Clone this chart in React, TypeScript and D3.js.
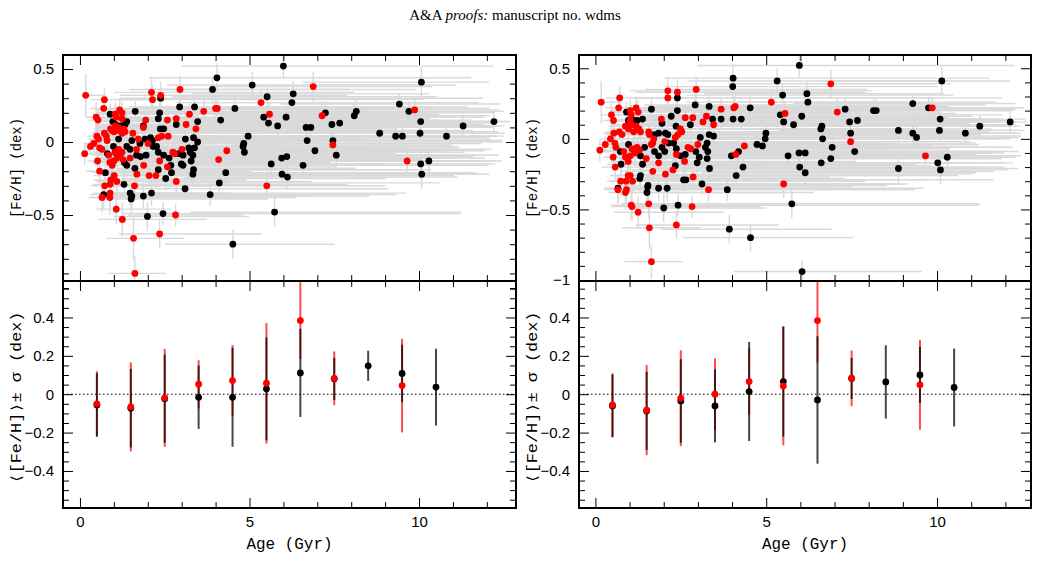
import React, { useEffect, useRef } from 'react';
import * as d3 from 'd3';

// [age (Gyr), [Fe/H], age minus, age plus, [Fe/H] error]
type Star = [number, number, number, number, number];

const leftRed: Star[] = [
  [0.17,0.32,0.1,0.6,0.15],[0.14,-0.08,0.1,0.9,0.08],[0.48,0.17,0.3,2.5,0.1],[0.53,0.15,0.3,4.2,0.08],
  [0.72,0.29,0.4,1.8,0.08],[0.70,0.23,0.4,6.5,0.07],[0.31,-0.03,0.2,1.2,0.06],[0.41,-0.01,0.3,3.5,0.07],
  [0.50,0.04,0.3,7.5,0.06],[0.55,0.02,0.3,2.0,0.07],[0.58,-0.04,0.4,9.0,0.06],[0.65,-0.05,0.4,5.0,0.08],
  [0.72,0.06,0.4,3.0,0.06],[0.78,0.04,0.5,10.5,0.07],[0.80,0.01,0.5,6.0,0.06],[0.52,-0.13,0.3,2.2,0.08],
  [0.58,-0.20,0.4,4.5,0.09],[0.73,-0.30,0.4,3.0,0.1],[0.65,-0.38,0.4,1.5,0.1],[0.89,-0.35,0.5,2.5,0.1],
  [0.88,-0.38,0.5,5.5,0.12],[1.07,-0.46,0.6,1.6,0.1],[1.25,-0.53,0.7,2.5,0.12],[1.58,-0.66,0.8,1.5,0.15],
  [1.62,-0.90,0.8,0.9,0.12],[0.89,-0.29,0.5,7.0,0.08],[0.91,-0.26,0.5,4.0,0.08],[1.01,-0.23,0.6,8.0,0.09],
  [1.09,-0.27,0.6,3.5,0.08],[0.85,-0.09,0.5,9.5,0.06],[0.88,-0.14,0.5,6.5,0.07],[0.95,-0.16,0.5,4.0,0.07],
  [1.00,-0.13,0.6,10.0,0.06],[1.04,-0.07,0.6,7.5,0.06],[1.09,-0.11,0.6,2.5,0.07],[1.14,-0.05,0.6,11.0,0.06],
  [1.19,-0.08,0.7,5.0,0.06],[1.24,-0.07,0.7,8.5,0.07],[1.27,-0.12,0.7,3.5,0.06],[0.90,0.09,0.5,5.5,0.06],
  [0.94,0.08,0.5,9.0,0.07],[1.00,0.07,0.6,3.0,0.06],[1.04,0.11,0.6,7.0,0.07],[1.09,0.08,0.6,10.5,0.06],
  [1.14,0.10,0.6,4.5,0.06],[1.19,0.08,0.7,8.0,0.07],[1.24,0.06,0.7,6.0,0.06],[1.29,0.09,0.7,2.5,0.06],
  [1.33,0.07,0.7,11.0,0.07],[1.04,0.19,0.6,5.0,0.08],[1.07,0.17,0.6,3.0,0.07],[1.17,0.22,0.6,7.5,0.08],
  [1.24,0.20,0.7,4.0,0.08],[1.24,0.16,0.7,9.0,0.07],[1.48,-0.11,0.8,6.0,0.07],[1.56,0.06,0.8,9.5,0.06],
  [1.61,-0.30,0.9,4.5,0.1],[1.67,-0.05,0.9,7.0,0.06],[1.68,-0.22,0.9,10.0,0.08],[1.72,0.02,0.9,5.5,0.06],
  [1.88,-0.16,1.0,8.0,0.07],[1.94,0.15,1.0,6.0,0.07],[1.87,0.10,1.0,10.0,0.06],[2.01,-0.01,1.1,4.0,0.06],
  [2.04,-0.23,1.1,9.0,0.08],[2.11,0.34,1.1,6.0,0.1],[2.14,0.29,1.1,8.0,0.1],[2.24,-0.23,1.2,5.0,0.08],
  [2.31,0.03,1.2,9.5,0.06],[2.35,-0.13,1.2,7.0,0.07],[2.38,0.32,1.2,5.5,0.09],[2.41,0.04,1.3,8.5,0.06],
  [2.60,0.04,1.3,6.0,0.06],[2.58,0.15,1.3,9.0,0.07],[2.58,-0.17,1.3,5.0,0.07],[2.35,-0.63,1.2,3.0,0.1],
  [2.74,-0.07,1.4,8.0,0.07],[2.80,-0.08,1.4,6.5,0.07],[2.84,-0.27,1.4,4.0,0.08],[2.84,0.16,1.4,7.5,0.07],
  [2.95,0.36,1.5,5.0,0.09],[3.01,-0.05,1.5,8.0,0.07],[2.82,-0.50,1.4,2.0,0.08],[3.13,0.12,1.6,6.5,0.07],
  [3.23,0.19,1.6,7.0,0.08],[3.42,0.09,1.7,5.5,0.07],[3.65,0.21,1.8,6.0,0.08],[4.00,0.23,2.0,7.5,0.08],
  [4.05,0.23,2.0,4.0,0.07],[4.09,-0.12,2.0,6.0,0.08],[4.33,-0.06,2.2,5.5,0.08],[5.34,0.27,2.5,4.0,0.09],
  [5.59,0.19,2.5,5.0,0.08],[5.51,-0.30,2.5,3.5,0.1],[6.88,0.38,3.0,3.5,0.1],[7.14,0.18,3.0,3.0,0.09],
  [7.46,-0.02,3.0,3.5,0.09],[9.87,0.22,3.5,2.5,0.07],[9.65,-0.13,3.5,2.8,0.1],
];

const leftBlack: Star[] = [
  [0.89,0.19,0.5,6.0,0.07],[0.97,0.14,0.5,3.5,0.07],[1.04,0.12,0.6,8.5,0.07],[1.19,0.11,0.6,5.0,0.06],
  [1.33,0.12,0.7,10.0,0.07],[1.38,0.14,0.7,7.0,0.06],[1.63,0.21,0.8,5.5,0.07],[1.87,0.11,1.0,9.0,0.06],
  [1.92,0.02,1.0,6.5,0.06],[2.08,0.03,1.1,10.0,0.06],[2.14,0.01,1.1,4.5,0.06],[2.31,0.16,1.2,8.0,0.07],
  [2.35,0.20,1.2,6.0,0.07],[2.38,0.30,1.2,9.5,0.08],[2.37,0.09,1.2,7.0,0.06],[2.47,0.09,1.3,5.0,0.06],
  [2.94,0.24,1.5,8.5,0.08],[2.84,0.12,1.4,6.0,0.07],[3.11,0.02,1.6,9.0,0.06],[3.38,0.24,1.7,7.0,0.08],
  [3.47,0.14,1.7,8.5,0.07],[3.35,0.03,1.7,6.0,0.06],[3.47,0.00,1.7,9.0,0.06],[3.38,-0.04,1.7,5.0,0.07],
  [3.21,-0.04,1.6,8.0,0.07],[3.25,-0.07,1.6,6.5,0.07],[3.33,-0.09,1.7,9.0,0.07],[3.04,-0.09,1.5,7.5,0.07],
  [2.92,-0.08,1.5,5.5,0.07],[3.28,-0.13,1.6,8.5,0.08],[2.99,-0.15,1.5,6.0,0.07],[3.04,-0.16,1.5,9.0,0.08],
  [3.35,-0.19,1.7,7.0,0.08],[3.33,-0.22,1.7,8.0,0.08],[3.91,0.36,2.0,6.0,0.09],[4.04,0.44,2.0,7.5,0.1],
  [4.15,0.15,2.1,6.5,0.08],[4.57,0.23,2.3,7.5,0.08],[4.96,0.04,2.5,6.0,0.07],[4.83,-0.01,2.4,7.0,0.07],
  [4.81,-0.03,2.4,5.0,0.07],[4.85,-0.07,2.4,6.5,0.07],[4.30,-0.21,2.2,7.0,0.08],[4.11,-0.28,2.1,6.5,0.09],
  [3.84,-0.36,1.9,5.5,0.08],[3.10,-0.32,1.6,6.0,0.08],[4.51,-0.70,2.0,3.0,0.1],[2.45,-0.49,1.2,8.8,0.08],
  [1.99,-0.51,1.0,3.0,0.1],[2.11,-0.35,1.1,7.5,0.09],[1.87,-0.37,1.0,5.0,0.09],[1.51,-0.39,0.8,4.0,0.1],
  [1.53,-0.37,0.8,7.0,0.09],[1.48,-0.35,0.8,3.0,0.09],[1.30,-0.29,0.7,6.0,0.09],[0.75,-0.21,0.4,4.5,0.08],
  [0.70,-0.36,0.4,2.5,0.1],[0.81,-0.08,0.5,8.0,0.06],[0.99,-0.03,0.5,6.0,0.06],[1.04,-0.07,0.6,9.5,0.06],
  [1.31,-0.14,0.7,5.5,0.07],[1.38,-0.16,0.7,8.0,0.07],[1.62,-0.18,0.8,6.5,0.07],[1.67,-0.09,0.9,10.0,0.06],
  [1.79,-0.10,0.9,7.5,0.07],[1.95,-0.09,1.0,5.0,0.06],[2.16,-0.03,1.1,9.0,0.06],[2.26,-0.03,1.2,6.5,0.06],
  [2.31,-0.07,1.2,8.0,0.07],[2.47,-0.09,1.3,6.0,0.07],[2.63,-0.11,1.3,8.5,0.07],[2.68,-0.16,1.4,7.0,0.07],
  [2.70,-0.21,1.4,9.0,0.08],[2.53,-0.25,1.3,6.5,0.08],[2.31,-0.19,1.2,7.5,0.08],[1.14,0.02,0.6,7.0,0.06],
  [1.38,-0.03,0.7,4.5,0.06],[1.53,0.01,0.8,9.0,0.06],[1.77,-0.01,0.9,6.0,0.06],[1.48,-0.05,0.8,8.0,0.06],
  [5.08,0.39,2.5,6.0,0.09],[6.00,0.52,3.0,6.2,0.08],[5.52,0.31,2.8,5.0,0.08],[6.29,0.33,3.0,4.0,0.09],
  [6.25,0.27,3.0,5.5,0.08],[5.42,0.17,2.7,6.5,0.07],[5.56,0.13,2.8,6.0,0.07],[5.83,0.11,2.9,6.5,0.07],
  [6.08,0.17,3.0,5.0,0.08],[6.67,0.10,3.0,5.5,0.07],[6.81,0.10,3.0,5.0,0.08],[6.70,0.01,3.0,5.5,0.07],
  [7.24,0.20,3.0,5.0,0.08],[7.43,0.12,3.0,4.5,0.08],[7.66,0.13,3.0,4.5,0.07],[7.46,0.01,3.0,5.0,0.08],
  [6.93,-0.06,3.0,5.0,0.08],[7.56,-0.09,3.0,4.8,0.08],[5.64,-0.15,2.8,6.5,0.07],[5.95,-0.11,2.9,6.0,0.08],
  [6.10,-0.10,3.0,5.5,0.08],[5.96,-0.22,2.9,6.0,0.08],[6.12,-0.24,3.0,5.0,0.08],[6.58,-0.16,3.0,4.5,0.09],
  [5.74,-0.48,2.5,5.5,0.1],[8.09,0.18,3.5,4.0,0.08],[8.15,0.21,3.5,4.0,0.08],[8.84,0.06,3.5,3.5,0.09],
  [9.31,0.04,3.5,3.0,0.08],[9.51,0.04,3.5,3.0,0.08],[9.42,0.26,3.5,3.0,0.07],[9.70,0.21,3.5,2.8,0.07],
  [10.07,0.41,3.5,2.0,0.1],[10.05,0.14,3.5,2.5,0.08],[10.03,0.06,3.5,2.5,0.08],[10.05,-0.15,3.5,2.2,0.1],
  [10.08,-0.22,3.5,2.0,0.1],[10.29,-0.13,3.5,2.0,0.08],[10.81,0.04,3.0,1.5,0.07],[11.30,0.11,3.0,1.2,0.08],
  [12.21,0.14,3.0,0.5,0.08],
];

const rightRed: Star[] = [
  [0.17,0.26,0.1,0.6,0.15],[0.13,-0.08,0.1,0.9,0.08],[0.47,0.17,0.3,2.5,0.1],[0.53,0.13,0.3,4.2,0.08],
  [0.71,0.29,0.4,1.8,0.08],[0.68,0.22,0.4,6.5,0.07],[0.29,-0.04,0.2,1.2,0.06],[0.44,0.00,0.3,3.5,0.07],
  [0.54,0.04,0.3,7.5,0.06],[0.57,-0.03,0.3,2.0,0.07],[0.60,-0.06,0.4,9.0,0.06],[0.70,0.05,0.4,3.0,0.06],
  [0.78,0.03,0.5,10.5,0.07],[0.52,-0.13,0.3,2.2,0.08],[0.58,-0.20,0.4,4.5,0.09],[0.74,-0.30,0.4,3.0,0.1],
  [0.66,-0.36,0.4,1.5,0.1],[0.91,-0.36,0.5,2.5,0.1],[0.88,-0.38,0.5,5.5,0.12],[1.05,-0.47,0.6,1.6,0.1],
  [1.07,-0.48,0.6,3.0,0.1],[1.25,-0.52,0.7,2.5,0.12],[1.58,-0.63,0.8,1.5,0.15],[1.64,-0.87,0.8,0.9,0.12],
  [0.90,-0.30,0.5,7.0,0.08],[0.96,-0.26,0.5,4.0,0.08],[1.02,-0.26,0.6,8.0,0.09],[1.09,-0.30,0.6,3.5,0.08],
  [0.83,-0.09,0.5,9.5,0.06],[0.88,-0.13,0.5,6.5,0.07],[0.96,-0.16,0.5,4.0,0.07],[1.02,-0.12,0.6,10.0,0.06],
  [1.07,-0.07,0.6,7.5,0.06],[1.15,-0.10,0.6,2.5,0.07],[1.22,-0.06,0.6,11.0,0.06],[1.29,-0.08,0.7,5.0,0.06],
  [0.88,0.09,0.5,5.5,0.06],[0.97,0.07,0.5,9.0,0.07],[1.05,0.10,0.6,3.0,0.06],[1.12,0.05,0.6,7.0,0.07],
  [1.19,0.09,0.6,10.5,0.06],[1.27,0.07,0.7,4.5,0.06],[1.32,0.05,0.7,8.0,0.07],[1.02,0.20,0.6,5.0,0.08],
  [1.05,0.17,0.6,3.0,0.07],[1.19,0.22,0.6,7.5,0.08],[1.25,0.19,0.7,4.0,0.08],[1.02,0.13,0.6,9.0,0.07],
  [1.49,-0.14,0.8,6.0,0.07],[1.56,0.05,0.8,9.5,0.06],[1.56,-0.46,0.8,4.0,0.1],[1.64,-0.04,0.9,7.0,0.06],
  [1.68,-0.23,0.9,10.0,0.08],[1.71,0.00,0.9,5.5,0.06],[1.58,0.03,0.8,8.0,0.06],[1.68,-0.03,0.9,6.0,0.06],
  [1.85,-0.17,1.0,8.0,0.07],[1.93,0.14,1.0,6.0,0.07],[2.03,-0.02,1.1,4.0,0.06],[2.05,-0.25,1.1,9.0,0.08],
  [2.12,0.34,1.1,6.0,0.1],[2.12,0.29,1.1,8.0,0.1],[2.27,-0.22,1.2,5.0,0.08],[2.34,0.01,1.2,9.5,0.06],
  [2.37,-0.11,1.2,7.0,0.07],[2.40,0.33,1.2,5.5,0.09],[2.42,0.03,1.3,8.5,0.06],[2.49,0.07,1.3,6.0,0.06],
  [2.53,0.05,1.3,9.0,0.07],[2.61,-0.16,1.3,5.0,0.07],[2.37,-0.61,1.2,3.0,0.1],[2.63,0.15,1.3,7.0,0.07],
  [2.71,-0.06,1.4,8.0,0.07],[2.79,-0.07,1.4,6.5,0.07],[2.85,0.15,1.4,7.5,0.07],[2.86,-0.27,1.4,4.0,0.08],
  [2.95,0.35,1.5,5.0,0.09],[3.00,-0.04,1.5,8.0,0.07],[2.83,-0.48,1.4,2.0,0.08],[3.15,0.12,1.6,6.5,0.07],
  [3.25,0.16,1.6,7.0,0.08],[3.46,0.10,1.7,5.5,0.07],[3.31,-0.36,1.7,6.0,0.09],[3.68,0.21,1.8,6.0,0.08],
  [4.05,0.22,2.0,7.5,0.08],[4.09,0.23,2.0,4.0,0.07],[4.11,-0.11,2.0,6.0,0.08],[4.36,-0.05,2.2,5.5,0.08],
  [5.15,0.26,2.5,4.5,0.09],[5.55,0.18,2.5,5.0,0.08],[5.51,-0.32,2.5,3.5,0.1],[6.89,0.39,3.0,3.5,0.1],
  [7.08,0.19,3.0,3.0,0.09],[7.47,-0.02,3.0,3.5,0.09],[9.86,0.22,3.5,2.5,0.07],[9.66,-0.12,3.5,2.8,0.1],
];

const rightBlack: Star[] = [
  [0.91,0.19,0.5,6.0,0.07],[0.97,0.13,0.5,3.5,0.07],[1.12,0.13,0.6,8.5,0.07],[1.22,0.13,0.6,5.0,0.06],
  [1.38,0.14,0.7,10.0,0.07],[1.64,0.21,0.8,5.5,0.07],[1.95,0.11,1.0,9.0,0.06],[1.85,0.04,1.0,6.5,0.06],
  [2.05,0.04,1.1,10.0,0.06],[2.12,0.03,1.1,4.5,0.06],[2.22,0.16,1.2,8.0,0.07],[2.40,0.20,1.2,6.0,0.07],
  [2.40,0.29,1.2,9.5,0.08],[2.36,0.09,1.2,7.0,0.06],[2.92,0.24,1.5,8.5,0.08],[2.78,0.10,1.4,6.0,0.07],
  [3.07,0.01,1.6,9.0,0.06],[3.33,0.23,1.7,7.0,0.08],[3.43,0.14,1.7,8.5,0.07],[3.33,0.03,1.7,6.0,0.06],
  [3.46,0.02,1.7,9.0,0.06],[3.27,-0.03,1.7,5.0,0.07],[3.22,-0.06,1.6,8.0,0.07],[3.29,-0.09,1.6,6.5,0.07],
  [3.04,-0.13,1.5,7.5,0.07],[2.94,-0.09,1.5,5.5,0.07],[3.27,-0.14,1.6,8.5,0.08],[3.34,-0.21,1.7,7.0,0.08],
  [2.98,-0.17,1.5,9.0,0.08],[3.12,-0.32,1.6,6.0,0.08],[4.02,0.37,2.0,6.0,0.09],[4.03,0.43,2.0,7.5,0.1],
  [3.68,0.14,1.8,6.5,0.08],[4.03,0.14,2.0,7.0,0.08],[4.27,0.14,2.1,6.5,0.08],[4.53,0.22,2.3,7.5,0.08],
  [5.32,0.41,2.6,5.0,0.09],[4.99,0.04,2.5,6.0,0.07],[4.97,0.00,2.4,7.0,0.07],[4.89,-0.05,2.4,5.0,0.07],
  [4.73,-0.04,2.4,6.5,0.07],[4.19,-0.09,2.1,7.0,0.08],[3.98,-0.12,2.0,6.5,0.08],[4.32,-0.20,2.2,7.0,0.08],
  [4.12,-0.26,2.1,6.5,0.09],[3.86,-0.36,1.9,5.5,0.08],[3.92,-0.64,2.0,3.0,0.1],[4.54,-0.70,2.0,3.0,0.1],
  [2.42,-0.47,1.2,8.8,0.08],[2.00,-0.49,1.0,3.0,0.1],[2.10,-0.35,1.1,7.5,0.09],[1.85,-0.35,1.0,5.0,0.09],
  [1.51,-0.38,0.8,4.0,0.1],[1.54,-0.33,0.8,7.0,0.09],[1.30,-0.28,0.7,6.0,0.09],[1.32,-0.26,0.7,3.0,0.09],
  [0.75,-0.18,0.4,4.5,0.08],[0.66,-0.35,0.4,2.5,0.1],[0.73,-0.09,0.5,8.0,0.06],[0.97,-0.04,0.5,6.0,0.06],
  [1.32,-0.12,0.7,5.5,0.07],[1.38,-0.18,0.7,8.0,0.07],[1.73,-0.09,0.9,10.0,0.06],[1.85,-0.12,0.9,7.5,0.07],
  [2.03,-0.09,1.0,5.0,0.06],[2.14,-0.03,1.1,9.0,0.06],[2.29,-0.03,1.2,6.5,0.06],[2.37,-0.07,1.2,8.0,0.07],
  [2.49,-0.12,1.3,6.0,0.07],[2.63,-0.11,1.3,8.5,0.07],[2.58,-0.29,1.3,7.0,0.08],[2.65,-0.29,1.4,9.0,0.08],
  [2.34,-0.19,1.2,7.5,0.08],[1.95,-0.06,1.0,7.0,0.06],[1.44,-0.06,0.7,4.5,0.06],[1.73,0.03,0.9,9.0,0.06],
  [1.53,-0.34,0.8,6.0,0.09],[5.97,0.52,3.0,6.3,0.08],[5.48,0.31,2.8,5.0,0.08],[6.19,0.32,3.0,4.0,0.09],
  [6.22,0.26,3.0,5.5,0.08],[5.41,0.17,2.7,6.5,0.07],[5.51,0.12,2.8,6.0,0.07],[5.80,0.10,2.9,6.5,0.07],
  [6.04,0.16,3.0,5.0,0.08],[6.63,0.09,3.0,5.5,0.07],[6.60,0.07,3.0,5.0,0.08],[6.65,0.00,3.0,5.5,0.07],
  [7.31,0.21,3.0,5.0,0.08],[7.44,0.12,3.0,4.5,0.08],[7.67,0.13,3.0,4.5,0.07],[7.47,0.04,3.0,5.0,0.08],
  [6.93,-0.06,3.0,5.0,0.08],[7.59,-0.09,3.0,4.8,0.08],[5.64,-0.12,2.8,6.5,0.07],[5.96,-0.10,2.9,6.0,0.08],
  [6.14,-0.10,3.0,5.5,0.08],[5.98,-0.20,2.9,6.0,0.08],[6.14,-0.24,3.0,5.0,0.08],[6.61,-0.17,3.0,4.5,0.09],
  [6.89,-0.14,3.0,5.0,0.08],[5.75,-0.46,2.5,5.5,0.1],[6.05,-0.94,2.0,3.5,0.08],[8.14,0.20,3.5,4.0,0.08],
  [8.22,0.20,3.5,4.0,0.08],[8.87,0.06,3.5,3.5,0.09],[9.29,0.04,3.5,3.0,0.08],[9.40,0.01,3.5,3.0,0.08],
  [9.29,0.25,3.5,3.0,0.07],[9.75,0.22,3.5,2.8,0.07],[10.14,0.41,3.5,2.0,0.1],[10.09,0.14,3.5,2.5,0.08],
  [10.07,0.06,3.5,2.5,0.08],[10.02,-0.17,3.5,2.2,0.1],[10.10,-0.22,3.5,2.0,0.1],[10.30,-0.13,3.5,2.0,0.08],
  [8.87,-0.21,3.5,3.5,0.1],[10.83,0.04,3.0,1.5,0.07],[11.25,0.09,3.0,1.2,0.08],[12.14,0.12,3.0,0.5,0.08],
];

// binned means, 1 Gyr bins
const binAges = [0.5, 1.5, 2.5, 3.5, 4.5, 5.5, 6.5, 7.5, 8.5, 9.5, 10.5];
const leftBlackMean = [-0.056, -0.073, -0.023, -0.016, -0.016, 0.028, 0.111, 0.080, 0.148, 0.108, 0.037];
const leftBlackSigma = [0.165, 0.205, 0.230, 0.165, 0.258, 0.268, 0.230, 0.110, 0.079, 0.150, 0.200];
const leftRedMean = [-0.050, -0.066, -0.019, 0.052, 0.071, 0.057, 0.384, 0.083, null, 0.045, null];
const leftRedSigma = [0.170, 0.232, 0.255, 0.126, 0.185, 0.314, 0.200, 0.140, null, 0.244, null];
const rightBlackMean = [-0.061, -0.087, -0.035, -0.061, 0.014, 0.066, -0.030, 0.082, 0.064, 0.100, 0.035];
const rightBlackSigma = [0.164, 0.204, 0.218, 0.190, 0.258, 0.287, 0.332, 0.107, 0.191, 0.146, 0.203];
const rightRedMean = [-0.056, -0.083, -0.021, 0.000, 0.066, 0.043, 0.384, 0.083, null, 0.049, null];
const rightRedSigma = [0.165, 0.235, 0.250, 0.187, 0.174, 0.310, 0.220, 0.145, null, 0.234, null];

const ageTicks = [0, 5, 10];
const topLeftTicks = [0.5, 0, -0.5];
const topRightTicks = [0.5, 0, -0.5, -1];
const bottomTicks = [0.4, 0.2, 0, -0.2, -0.4];

const TOP = 55;
const MID = 281;
const BOTTOM = 508;
const TICK_FONT = '"Liberation Sans", Arial, sans-serif';
const LABEL_FONT = '"Liberation Mono", "DejaVu Sans Mono", monospace';

interface PanelSpec {
  id: string;
  x0: number;
  x1: number;
  ageDomain: [number, number];
  fehDomain: [number, number];
  fehTicks: number[];
  red: Star[];
  black: Star[];
  blackMean: (number | null)[];
  blackSigma: (number | null)[];
  redMean: (number | null)[];
  redSigma: (number | null)[];
  yTitleX: number;
}

const panels: PanelSpec[] = [
  {
    id: 'l', x0: 63, x1: 516, ageDomain: [-0.5, 12.86], fehDomain: [-0.952, 0.596], fehTicks: topLeftTicks,
    red: leftRed, black: leftBlack, blackMean: leftBlackMean, blackSigma: leftBlackSigma,
    redMean: leftRedMean, redSigma: leftRedSigma, yTitleX: 21,
  },
  {
    id: 'r', x0: 579, x1: 1031, ageDomain: [-0.48, 12.75], fehDomain: [-1.007, 0.594], fehTicks: topRightTicks,
    red: rightRed, black: rightBlack, blackMean: rightBlackMean, blackSigma: rightBlackSigma,
    redMean: rightRedMean, redSigma: rightRedSigma, yTitleX: 537,
  },
];

const fmt = (d: number) => (d === 0 ? '0' : d3.format('~g')(d));

function styleAxis(g: d3.Selection<SVGGElement, unknown, null, undefined>) {
  g.select('.domain').remove();
  g.selectAll('line').attr('stroke', '#000').attr('stroke-width', 1);
  g.selectAll('text').attr('fill', '#000').attr('font-size', '15px').attr('font-family', TICK_FONT);
}

function drawPanel(svg: d3.Selection<SVGSVGElement, unknown, null, undefined>, p: PanelSpec) {
  const x = d3.scaleLinear().domain(p.ageDomain).range([p.x0, p.x1]);
  const yTop = d3.scaleLinear().domain(p.fehDomain).range([MID, TOP]);
  const yBot = d3.scaleLinear().domain([-0.593, 0.59]).range([BOTTOM, MID]);

  const defs = svg.append('defs');
  defs.append('clipPath').attr('id', `clipTop-${p.id}`)
    .append('rect').attr('x', p.x0).attr('y', TOP).attr('width', p.x1 - p.x0).attr('height', MID - TOP);
  defs.append('clipPath').attr('id', `clipBot-${p.id}`)
    .append('rect').attr('x', p.x0).attr('y', MID).attr('width', p.x1 - p.x0).attr('height', BOTTOM - MID);

  // scatter: grey error bars underneath, then points
  const top = svg.append('g').attr('clip-path', `url(#clipTop-${p.id})`);
  const stars = [...p.black, ...p.red];
  top.selectAll('line.xerr').data(stars).join('line')
    .attr('class', 'xerr')
    .attr('x1', d => x(d[0] - d[2])).attr('x2', d => x(d[0] + d[3]))
    .attr('y1', d => yTop(d[1])).attr('y2', d => yTop(d[1]))
    .attr('stroke', '#d9d9d9').attr('stroke-width', 1.4);
  top.selectAll('line.yerr').data(stars).join('line')
    .attr('class', 'yerr')
    .attr('x1', d => x(d[0])).attr('x2', d => x(d[0]))
    .attr('y1', d => yTop(d[1] - d[4])).attr('y2', d => yTop(d[1] + d[4]))
    .attr('stroke', '#d9d9d9').attr('stroke-width', 1.4);
  top.selectAll('circle.blk').data(p.black).join('circle')
    .attr('class', 'blk')
    .attr('cx', d => x(d[0])).attr('cy', d => yTop(d[1])).attr('r', 3.4).attr('fill', '#000');
  top.selectAll('circle.red').data(p.red).join('circle')
    .attr('class', 'red')
    .attr('cx', d => x(d[0])).attr('cy', d => yTop(d[1])).attr('r', 3.4).attr('fill', '#ff0000');

  // binned means with sigma bars
  const bot = svg.append('g').attr('clip-path', `url(#clipBot-${p.id})`);
  bot.append('line')
    .attr('x1', p.x0).attr('x2', p.x1).attr('y1', yBot(0)).attr('y2', yBot(0))
    .attr('stroke', '#000').attr('stroke-width', 1).attr('stroke-dasharray', '1.5,2.5');

  const bins = (mean: (number | null)[], sigma: (number | null)[]) =>
    binAges.map((a, i) => ({ a, m: mean[i], s: sigma[i] }))
      .filter(d => d.m !== null && d.s !== null) as { a: number; m: number; s: number }[];
  const redBins = bins(p.redMean, p.redSigma);
  const blackBins = bins(p.blackMean, p.blackSigma);

  bot.selectAll('line.rbar').data(redBins).join('line')
    .attr('class', 'rbar')
    .attr('x1', d => x(d.a)).attr('x2', d => x(d.a))
    .attr('y1', d => yBot(d.m - d.s)).attr('y2', d => yBot(d.m + d.s))
    .attr('stroke', '#ff0000').attr('stroke-opacity', 0.7).attr('stroke-width', 2);
  bot.selectAll('line.bbar').data(blackBins).join('line')
    .attr('class', 'bbar')
    .attr('x1', d => x(d.a)).attr('x2', d => x(d.a))
    .attr('y1', d => yBot(d.m - d.s)).attr('y2', d => yBot(d.m + d.s))
    .attr('stroke', '#000').attr('stroke-opacity', 0.72).attr('stroke-width', 2);
  bot.selectAll('circle.bm').data(blackBins).join('circle')
    .attr('class', 'bm')
    .attr('cx', d => x(d.a)).attr('cy', d => yBot(d.m)).attr('r', 3.4).attr('fill', '#000');
  bot.selectAll('circle.rm').data(redBins).join('circle')
    .attr('class', 'rm')
    .attr('cx', d => x(d.a)).attr('cy', d => yBot(d.m)).attr('r', 3.4).attr('fill', '#ff0000');

  // ticks on every edge, pointing inward
  const ageMinor = d3.range(0, 13).filter(v => v % 5 !== 0);
  const topMinor = d3.range(-10, 6).map(v => v / 10).filter(v => !p.fehTicks.includes(v));
  const botMinor = d3.range(-11, 12).map(v => v * 0.05).filter(v => Math.abs(v / 0.2 - Math.round(v / 0.2)) > 1e-6);

  const xEdges: [number, boolean, boolean][] = [[TOP, true, false], [MID, false, false], [MID, true, false], [BOTTOM, false, true]];
  xEdges.forEach(([yPos, isTop, labelled]) => {
    const mk = (vals: number[], len: number, withText: boolean) => {
      const ax = (isTop ? d3.axisTop(x) : d3.axisBottom(x))
        .tickValues(vals).tickSize(-len).tickPadding(8)
        .tickFormat(withText ? (d => String(d)) : () => '');
      const g = svg.append('g').attr('transform', `translate(0,${yPos})`).call(ax);
      styleAxis(g);
    };
    mk(ageMinor, 6, false);
    mk(ageTicks, 10, labelled);
  });

  const yAxes: [d3.ScaleLinear<number, number>, number[], number[]][] = [
    [yTop, p.fehTicks, topMinor],
    [yBot, bottomTicks, botMinor],
  ];
  yAxes.forEach(([scale, major, minor]) => {
    [[p.x0, true], [p.x1, false]].forEach(([xPos, isLeft]) => {
      const axis = isLeft ? d3.axisLeft(scale) : d3.axisRight(scale);
      const gMinor = svg.append('g').attr('transform', `translate(${xPos},0)`)
        .call(axis.tickValues(minor).tickSize(-6).tickFormat(() => ''));
      styleAxis(gMinor);
      const axis2 = isLeft ? d3.axisLeft(scale) : d3.axisRight(scale);
      const gMajor = svg.append('g').attr('transform', `translate(${xPos},0)`)
        .call(axis2.tickValues(major).tickSize(-10).tickPadding(9)
          .tickFormat(isLeft ? (d => fmt(+d)) : () => ''));
      styleAxis(gMajor);
    });
  });

  // frames
  [[TOP, MID], [MID, BOTTOM]].forEach(([y0, y1]) => {
    svg.append('rect')
      .attr('x', p.x0).attr('y', y0).attr('width', p.x1 - p.x0).attr('height', y1 - y0)
      .attr('fill', 'none').attr('stroke', '#000').attr('stroke-width', 2);
  });

  // axis titles
  svg.append('text')
    .attr('x', (p.x0 + p.x1) / 2).attr('y', 549)
    .attr('text-anchor', 'middle')
    .attr('font-family', LABEL_FONT).attr('font-size', '16px')
    .attr('textLength', 86).attr('lengthAdjust', 'spacingAndGlyphs')
    .text('Age (Gyr)');

  svg.append('text')
    .attr('transform', `translate(${p.yTitleX},${(TOP + MID) / 2}) rotate(-90)`)
    .attr('text-anchor', 'middle')
    .attr('font-family', LABEL_FONT).attr('font-size', '14px')
    .attr('textLength', 100).attr('lengthAdjust', 'spacingAndGlyphs')
    .text('[Fe/H] (dex)');

  svg.append('text')
    .attr('transform', `translate(${p.yTitleX},${(MID + BOTTOM) / 2 + 3}) rotate(-90)`)
    .attr('text-anchor', 'middle')
    .attr('font-family', LABEL_FONT).attr('font-size', '14px')
    .attr('textLength', 172).attr('lengthAdjust', 'spacingAndGlyphs')
    .text('⟨[Fe/H]⟩± σ (dex)');
}

const App: React.FC = () => {
  const svgRef = useRef<SVGSVGElement>(null);

  useEffect(() => {
    if (!svgRef.current) return;
    const svg = d3.select(svgRef.current);
    svg.selectAll('*').remove();

    svg.append('rect').attr('width', 1038).attr('height', 561).attr('fill', '#fff');

    const title = svg.append('text')
      .attr('x', 515).attr('y', 20)
      .attr('text-anchor', 'middle')
      .attr('font-family', '"Liberation Serif", "Times New Roman", serif')
      .attr('font-size', '15px');
    title.append('tspan').text('A&A ');
    title.append('tspan').attr('font-style', 'italic').text('proofs:');
    title.append('tspan').text(' manuscript no. wdms');

    panels.forEach(p => drawPanel(svg, p));
  }, []);

  return (
    <div style={{ position: 'absolute', left: 0, top: 0, width: 1038, height: 561, background: '#fff' }}>
      <svg ref={svgRef} width={1038} height={561} style={{ display: 'block' }} />
    </div>
  );
};

export default App;
